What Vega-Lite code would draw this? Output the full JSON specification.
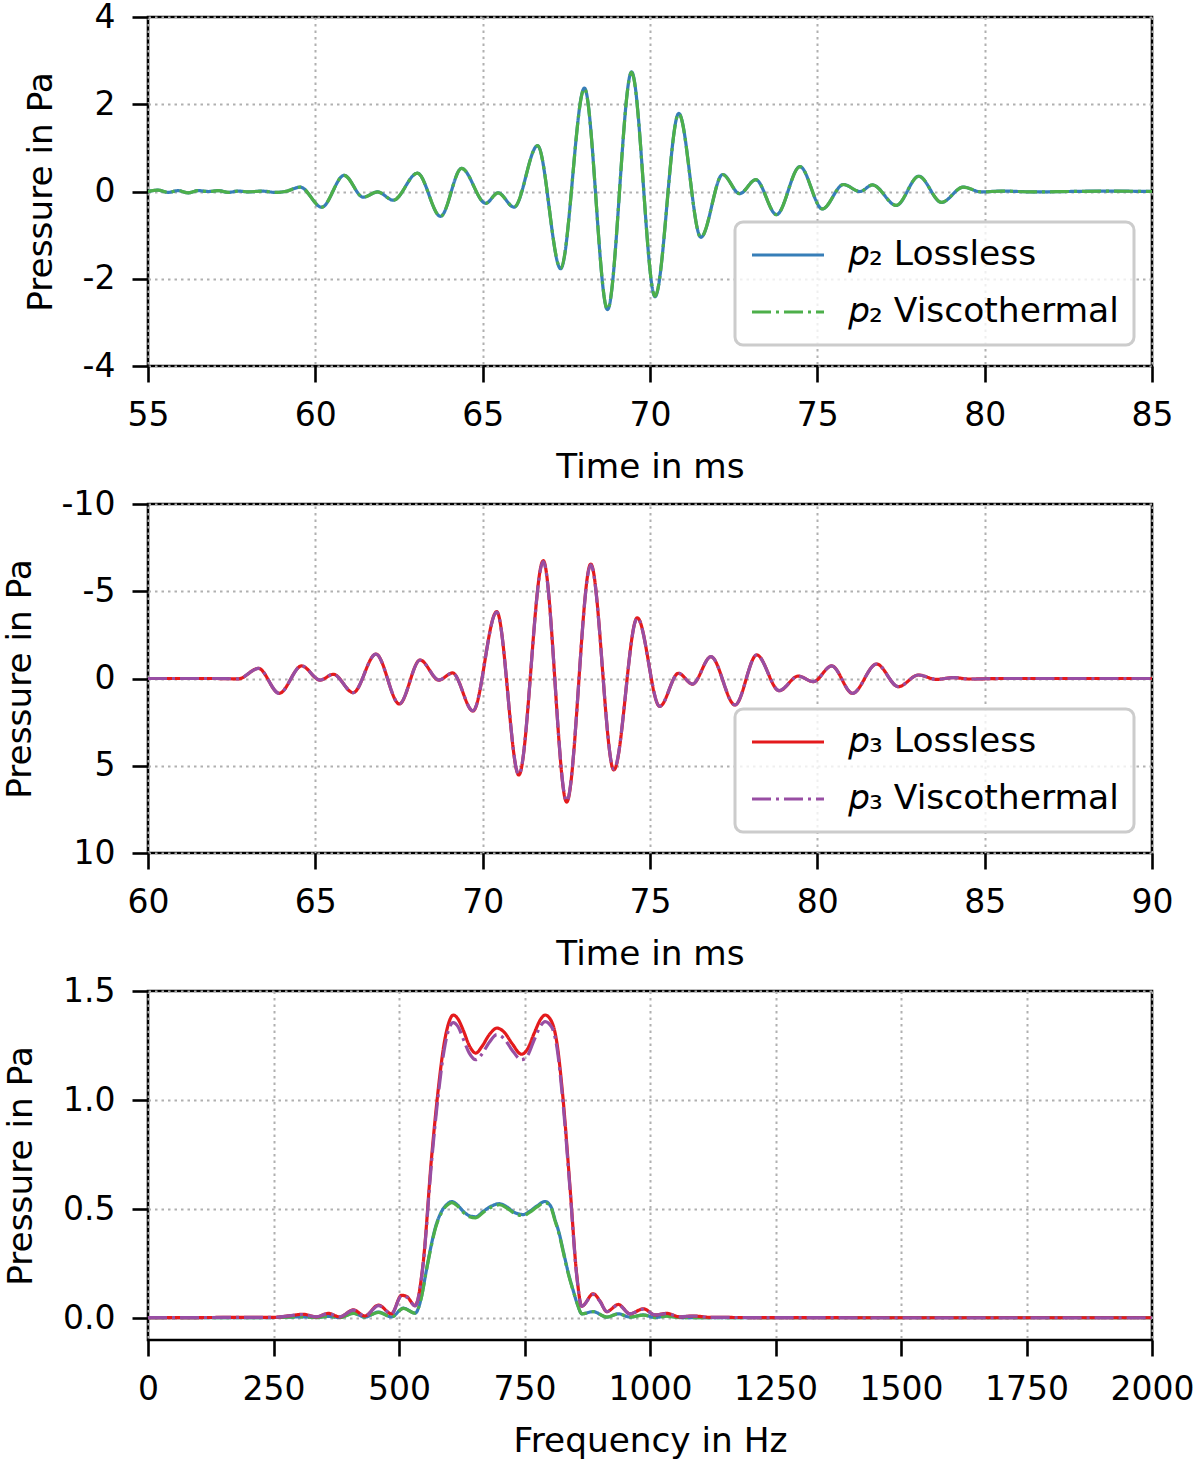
{
  "$schema": "https://vega.github.io/schema/vega-lite/v6.json",
  "background": "white",
  "padding": {"left": 1, "top": -1, "right": 0, "bottom": 0},
  "spacing": 0,
  "config": {
    "font": "DejaVu Sans",
    "view": {"stroke": "black", "strokeWidth": 2.6},
    "axis": {
      "labelFont": "DejaVu Sans", "titleFont": "DejaVu Sans",
      "labelFontSize": 33, "titleFontSize": 34.3, "titleFontWeight": "normal",
      "labelColor": "black", "titleColor": "black",
      "domain": false, "tickColor": "black", "tickSize": 16, "tickWidth": 2.6,
      "labelPadding": 17, "labelFlush": false, "labelOverlap": false,
      "grid": true, "gridColor": "#b0b0b0", "gridDash": [2.5, 4], "gridWidth": 2
    },
    "axisX": {"titlePadding": 18},
    "axisY": {"titlePadding": 24},
    "legend": {
      "labelFont": "DejaVu Sans", "labelFontSize": 34.5, "labelColor": "black", "labelLimit": 0,
      "symbolType": "stroke", "symbolSize": 5184, "symbolStrokeWidth": 3.2, "clipHeight": 36,
      "fillColor": "rgba(255,255,255,0.8)", "strokeColor": "#cccccc", "strokeWidth": 3, "cornerRadius": 8,
      "padding": 15, "rowPadding": 21, "labelOffset": 23
    }
  },
  "resolve": {
    "scale": {"color": "independent", "strokeDash": "independent"},
    "legend": {"color": "independent", "strokeDash": "independent"}
  },
  "datasets": {
    "p2t": [
      {"t": 55, "p": 0, "s": "L"}, {"t": 55.3, "p": 0.03, "s": "L"}, {"t": 55.6, "p": -0.02, "s": "L"}, {"t": 55.9, "p": 0.02, "s": "L"},
      {"t": 56.2, "p": -0.03, "s": "L"}, {"t": 56.5, "p": 0.02, "s": "L"}, {"t": 56.8, "p": 0, "s": "L"}, {"t": 57.1, "p": 0.02, "s": "L"},
      {"t": 57.4, "p": -0.02, "s": "L"}, {"t": 57.7, "p": 0.01, "s": "L"}, {"t": 58, "p": -0.01, "s": "L"}, {"t": 58.4, "p": 0.01, "s": "L"},
      {"t": 58.8, "p": -0.02, "s": "L"}, {"t": 59.1, "p": 0, "s": "L"}, {"t": 59.55, "p": 0.1, "s": "L"}, {"t": 60.19, "p": -0.36, "s": "L"},
      {"t": 60.86, "p": 0.37, "s": "L"}, {"t": 61.43, "p": -0.13, "s": "L"}, {"t": 61.86, "p": -0.01, "s": "L"}, {"t": 62.33, "p": -0.2, "s": "L"},
      {"t": 63.05, "p": 0.42, "s": "L"}, {"t": 63.74, "p": -0.57, "s": "L"}, {"t": 64.37, "p": 0.53, "s": "L"}, {"t": 65.09, "p": -0.27, "s": "L"},
      {"t": 65.46, "p": -0.03, "s": "L"}, {"t": 65.94, "p": -0.36, "s": "L"}, {"t": 66.64, "p": 1.05, "s": "L"}, {"t": 67.33, "p": -1.77, "s": "L"},
      {"t": 68.04, "p": 2.37, "s": "L"}, {"t": 68.73, "p": -2.71, "s": "L"}, {"t": 69.45, "p": 2.74, "s": "L"}, {"t": 70.15, "p": -2.41, "s": "L"},
      {"t": 70.86, "p": 1.79, "s": "L"}, {"t": 71.52, "p": -1.05, "s": "L"}, {"t": 72.17, "p": 0.39, "s": "L"}, {"t": 72.68, "p": -0.05, "s": "L"},
      {"t": 73.16, "p": 0.27, "s": "L"}, {"t": 73.78, "p": -0.53, "s": "L"}, {"t": 74.48, "p": 0.57, "s": "L"}, {"t": 75.15, "p": -0.4, "s": "L"},
      {"t": 75.78, "p": 0.16, "s": "L"}, {"t": 76.27, "p": 0, "s": "L"}, {"t": 76.65, "p": 0.15, "s": "L"}, {"t": 77.36, "p": -0.32, "s": "L"},
      {"t": 78.03, "p": 0.35, "s": "L"}, {"t": 78.71, "p": -0.25, "s": "L"}, {"t": 79.36, "p": 0.1, "s": "L"}, {"t": 79.9, "p": -0.01, "s": "L"},
      {"t": 80.5, "p": 0.01, "s": "L"}, {"t": 81.5, "p": -0.01, "s": "L"}, {"t": 82.5, "p": 0, "s": "L"}, {"t": 83.5, "p": 0.01, "s": "L"}, {"t": 85, "p": 0, "s": "L"},

      {"t": 55, "p": 0, "s": "V"}, {"t": 55.3, "p": 0.03, "s": "V"}, {"t": 55.6, "p": -0.02, "s": "V"}, {"t": 55.9, "p": 0.02, "s": "V"},
      {"t": 56.2, "p": -0.03, "s": "V"}, {"t": 56.5, "p": 0.02, "s": "V"}, {"t": 56.8, "p": 0, "s": "V"}, {"t": 57.1, "p": 0.02, "s": "V"},
      {"t": 57.4, "p": -0.02, "s": "V"}, {"t": 57.7, "p": 0.01, "s": "V"}, {"t": 58, "p": -0.01, "s": "V"}, {"t": 58.4, "p": 0.01, "s": "V"},
      {"t": 58.8, "p": -0.02, "s": "V"}, {"t": 59.1, "p": 0, "s": "V"}, {"t": 59.55, "p": 0.1, "s": "V"}, {"t": 60.19, "p": -0.36, "s": "V"},
      {"t": 60.86, "p": 0.37, "s": "V"}, {"t": 61.43, "p": -0.13, "s": "V"}, {"t": 61.86, "p": -0.01, "s": "V"}, {"t": 62.33, "p": -0.2, "s": "V"},
      {"t": 63.05, "p": 0.42, "s": "V"}, {"t": 63.74, "p": -0.57, "s": "V"}, {"t": 64.37, "p": 0.53, "s": "V"}, {"t": 65.09, "p": -0.27, "s": "V"},
      {"t": 65.46, "p": -0.03, "s": "V"}, {"t": 65.94, "p": -0.36, "s": "V"}, {"t": 66.64, "p": 1.05, "s": "V"}, {"t": 67.33, "p": -1.76, "s": "V"},
      {"t": 68.04, "p": 2.36, "s": "V"}, {"t": 68.73, "p": -2.7, "s": "V"}, {"t": 69.45, "p": 2.73, "s": "V"}, {"t": 70.15, "p": -2.4, "s": "V"},
      {"t": 70.86, "p": 1.78, "s": "V"}, {"t": 71.52, "p": -1.05, "s": "V"}, {"t": 72.17, "p": 0.39, "s": "V"}, {"t": 72.68, "p": -0.05, "s": "V"},
      {"t": 73.16, "p": 0.27, "s": "V"}, {"t": 73.78, "p": -0.53, "s": "V"}, {"t": 74.48, "p": 0.57, "s": "V"}, {"t": 75.15, "p": -0.4, "s": "V"},
      {"t": 75.78, "p": 0.16, "s": "V"}, {"t": 76.27, "p": 0, "s": "V"}, {"t": 76.65, "p": 0.15, "s": "V"}, {"t": 77.36, "p": -0.32, "s": "V"},
      {"t": 78.03, "p": 0.35, "s": "V"}, {"t": 78.71, "p": -0.25, "s": "V"}, {"t": 79.36, "p": 0.1, "s": "V"}, {"t": 79.9, "p": -0.01, "s": "V"},
      {"t": 80.5, "p": 0.01, "s": "V"}, {"t": 81.5, "p": -0.01, "s": "V"}, {"t": 82.5, "p": 0, "s": "V"}, {"t": 83.5, "p": 0.01, "s": "V"}, {"t": 85, "p": 0, "s": "V"}
    ],
    "p3t": [
      {"t": 60, "p": 0, "s": "L"}, {"t": 61, "p": 0, "s": "L"}, {"t": 62, "p": 0, "s": "L"}, {"t": 62.7, "p": 0.02, "s": "L"},
      {"t": 63.3, "p": -0.58, "s": "L"}, {"t": 63.92, "p": 0.85, "s": "L"}, {"t": 64.59, "p": -0.72, "s": "L"}, {"t": 65.14, "p": 0.09, "s": "L"},
      {"t": 65.54, "p": -0.24, "s": "L"}, {"t": 66.13, "p": 0.81, "s": "L"}, {"t": 66.81, "p": -1.4, "s": "L"}, {"t": 67.51, "p": 1.46, "s": "L"},
      {"t": 68.13, "p": -1.06, "s": "L"}, {"t": 68.69, "p": 0.09, "s": "L"}, {"t": 69.1, "p": -0.32, "s": "L"}, {"t": 69.71, "p": 1.86, "s": "L"},
      {"t": 70.42, "p": -3.83, "s": "L"}, {"t": 71.08, "p": 5.53, "s": "L"}, {"t": 71.81, "p": -6.75, "s": "L"}, {"t": 72.51, "p": 7.08, "s": "L"},
      {"t": 73.23, "p": -6.56, "s": "L"}, {"t": 73.92, "p": 5.24, "s": "L"}, {"t": 74.62, "p": -3.48, "s": "L"}, {"t": 75.29, "p": 1.6, "s": "L"},
      {"t": 75.85, "p": -0.3, "s": "L"}, {"t": 76.27, "p": 0.32, "s": "L"}, {"t": 76.82, "p": -1.25, "s": "L"}, {"t": 77.54, "p": 1.52, "s": "L"},
      {"t": 78.19, "p": -1.35, "s": "L"}, {"t": 78.86, "p": 0.7, "s": "L"}, {"t": 79.43, "p": -0.14, "s": "L"}, {"t": 79.88, "p": 0.18, "s": "L"},
      {"t": 80.43, "p": -0.72, "s": "L"}, {"t": 81.05, "p": 0.85, "s": "L"}, {"t": 81.77, "p": -0.83, "s": "L"}, {"t": 82.42, "p": 0.47, "s": "L"},
      {"t": 83.02, "p": -0.2, "s": "L"}, {"t": 83.56, "p": 0.05, "s": "L"}, {"t": 84.06, "p": -0.05, "s": "L"}, {"t": 84.56, "p": 0.03, "s": "L"},
      {"t": 85.5, "p": 0, "s": "L"}, {"t": 87, "p": 0, "s": "L"}, {"t": 90, "p": 0, "s": "L"},

      {"t": 60, "p": 0, "s": "V"}, {"t": 61, "p": 0, "s": "V"}, {"t": 62, "p": 0, "s": "V"}, {"t": 62.7, "p": 0.02, "s": "V"},
      {"t": 63.3, "p": -0.58, "s": "V"}, {"t": 63.92, "p": 0.85, "s": "V"}, {"t": 64.59, "p": -0.72, "s": "V"}, {"t": 65.14, "p": 0.09, "s": "V"},
      {"t": 65.54, "p": -0.24, "s": "V"}, {"t": 66.13, "p": 0.81, "s": "V"}, {"t": 66.81, "p": -1.4, "s": "V"}, {"t": 67.51, "p": 1.46, "s": "V"},
      {"t": 68.13, "p": -1.06, "s": "V"}, {"t": 68.69, "p": 0.09, "s": "V"}, {"t": 69.1, "p": -0.32, "s": "V"}, {"t": 69.71, "p": 1.85, "s": "V"},
      {"t": 70.42, "p": -3.8, "s": "V"}, {"t": 71.08, "p": 5.5, "s": "V"}, {"t": 71.81, "p": -6.7, "s": "V"}, {"t": 72.51, "p": 7.03, "s": "V"},
      {"t": 73.23, "p": -6.52, "s": "V"}, {"t": 73.92, "p": 5.2, "s": "V"}, {"t": 74.62, "p": -3.46, "s": "V"}, {"t": 75.29, "p": 1.6, "s": "V"},
      {"t": 75.85, "p": -0.3, "s": "V"}, {"t": 76.27, "p": 0.32, "s": "V"}, {"t": 76.82, "p": -1.25, "s": "V"}, {"t": 77.54, "p": 1.52, "s": "V"},
      {"t": 78.19, "p": -1.35, "s": "V"}, {"t": 78.86, "p": 0.7, "s": "V"}, {"t": 79.43, "p": -0.14, "s": "V"}, {"t": 79.88, "p": 0.18, "s": "V"},
      {"t": 80.43, "p": -0.72, "s": "V"}, {"t": 81.05, "p": 0.85, "s": "V"}, {"t": 81.77, "p": -0.83, "s": "V"}, {"t": 82.42, "p": 0.47, "s": "V"},
      {"t": 83.02, "p": -0.2, "s": "V"}, {"t": 83.56, "p": 0.05, "s": "V"}, {"t": 84.06, "p": -0.05, "s": "V"}, {"t": 84.56, "p": 0.03, "s": "V"},
      {"t": 85.5, "p": 0, "s": "V"}, {"t": 87, "p": 0, "s": "V"}, {"t": 90, "p": 0, "s": "V"}
    ],
    "spec": [
      {"f": 0, "p": 0.002, "s": "p2L"}, {"f": 250, "p": 0.003, "s": "p2L"}, {"f": 309, "p": 0.006, "s": "p2L"}, {"f": 335, "p": 0.003, "s": "p2L"},
      {"f": 359, "p": 0.008, "s": "p2L"}, {"f": 382, "p": 0.003, "s": "p2L"}, {"f": 409, "p": 0.023, "s": "p2L"}, {"f": 432, "p": 0.005, "s": "p2L"},
      {"f": 459, "p": 0.028, "s": "p2L"}, {"f": 485, "p": 0.006, "s": "p2L"}, {"f": 509, "p": 0.046, "s": "p2L"}, {"f": 532, "p": 0.023, "s": "p2L"},
      {"f": 545, "p": 0.1, "s": "p2L"}, {"f": 553, "p": 0.2, "s": "p2L"}, {"f": 562, "p": 0.31, "s": "p2L"}, {"f": 573, "p": 0.42, "s": "p2L"},
      {"f": 585, "p": 0.49, "s": "p2L"}, {"f": 597, "p": 0.525, "s": "p2L"}, {"f": 605, "p": 0.535, "s": "p2L"}, {"f": 616, "p": 0.52, "s": "p2L"},
      {"f": 628, "p": 0.49, "s": "p2L"}, {"f": 640, "p": 0.47, "s": "p2L"}, {"f": 653, "p": 0.465, "s": "p2L"}, {"f": 668, "p": 0.49, "s": "p2L"},
      {"f": 685, "p": 0.515, "s": "p2L"}, {"f": 700, "p": 0.525, "s": "p2L"}, {"f": 715, "p": 0.51, "s": "p2L"}, {"f": 730, "p": 0.485, "s": "p2L"},
      {"f": 748, "p": 0.475, "s": "p2L"}, {"f": 760, "p": 0.49, "s": "p2L"}, {"f": 775, "p": 0.515, "s": "p2L"}, {"f": 791, "p": 0.535, "s": "p2L"},
      {"f": 803, "p": 0.51, "s": "p2L"}, {"f": 811, "p": 0.45, "s": "p2L"}, {"f": 819, "p": 0.39, "s": "p2L"}, {"f": 827, "p": 0.31, "s": "p2L"},
      {"f": 837, "p": 0.21, "s": "p2L"}, {"f": 847, "p": 0.127, "s": "p2L"}, {"f": 856, "p": 0.06, "s": "p2L"}, {"f": 864, "p": 0.02, "s": "p2L"},
      {"f": 887, "p": 0.03, "s": "p2L"}, {"f": 914, "p": 0.005, "s": "p2L"}, {"f": 937, "p": 0.02, "s": "p2L"}, {"f": 960, "p": 0.005, "s": "p2L"},
      {"f": 987, "p": 0.015, "s": "p2L"}, {"f": 1010, "p": 0.003, "s": "p2L"}, {"f": 1033, "p": 0.01, "s": "p2L"}, {"f": 1060, "p": 0.003, "s": "p2L"},
      {"f": 1100, "p": 0.002, "s": "p2L"}, {"f": 2000, "p": 0.002, "s": "p2L"},

      {"f": 0, "p": 0.002, "s": "p2V"}, {"f": 250, "p": 0.003, "s": "p2V"}, {"f": 309, "p": 0.006, "s": "p2V"}, {"f": 335, "p": 0.003, "s": "p2V"},
      {"f": 359, "p": 0.008, "s": "p2V"}, {"f": 382, "p": 0.003, "s": "p2V"}, {"f": 409, "p": 0.022, "s": "p2V"}, {"f": 432, "p": 0.005, "s": "p2V"},
      {"f": 459, "p": 0.027, "s": "p2V"}, {"f": 485, "p": 0.006, "s": "p2V"}, {"f": 509, "p": 0.045, "s": "p2V"}, {"f": 532, "p": 0.023, "s": "p2V"},
      {"f": 545, "p": 0.1, "s": "p2V"}, {"f": 553, "p": 0.2, "s": "p2V"}, {"f": 562, "p": 0.305, "s": "p2V"}, {"f": 573, "p": 0.415, "s": "p2V"},
      {"f": 585, "p": 0.485, "s": "p2V"}, {"f": 597, "p": 0.52, "s": "p2V"}, {"f": 605, "p": 0.53, "s": "p2V"}, {"f": 616, "p": 0.515, "s": "p2V"},
      {"f": 628, "p": 0.485, "s": "p2V"}, {"f": 640, "p": 0.465, "s": "p2V"}, {"f": 653, "p": 0.46, "s": "p2V"}, {"f": 668, "p": 0.485, "s": "p2V"},
      {"f": 685, "p": 0.51, "s": "p2V"}, {"f": 700, "p": 0.52, "s": "p2V"}, {"f": 715, "p": 0.505, "s": "p2V"}, {"f": 730, "p": 0.48, "s": "p2V"},
      {"f": 748, "p": 0.47, "s": "p2V"}, {"f": 760, "p": 0.485, "s": "p2V"}, {"f": 775, "p": 0.51, "s": "p2V"}, {"f": 791, "p": 0.53, "s": "p2V"},
      {"f": 803, "p": 0.505, "s": "p2V"}, {"f": 811, "p": 0.445, "s": "p2V"}, {"f": 819, "p": 0.385, "s": "p2V"}, {"f": 827, "p": 0.305, "s": "p2V"},
      {"f": 837, "p": 0.205, "s": "p2V"}, {"f": 847, "p": 0.125, "s": "p2V"}, {"f": 856, "p": 0.06, "s": "p2V"}, {"f": 864, "p": 0.02, "s": "p2V"},
      {"f": 887, "p": 0.03, "s": "p2V"}, {"f": 914, "p": 0.005, "s": "p2V"}, {"f": 937, "p": 0.02, "s": "p2V"}, {"f": 960, "p": 0.005, "s": "p2V"},
      {"f": 987, "p": 0.014, "s": "p2V"}, {"f": 1010, "p": 0.003, "s": "p2V"}, {"f": 1033, "p": 0.009, "s": "p2V"}, {"f": 1060, "p": 0.003, "s": "p2V"},
      {"f": 1100, "p": 0.002, "s": "p2V"}, {"f": 2000, "p": 0.002, "s": "p2V"},

      {"f": 0, "p": 0.003, "s": "p3L"}, {"f": 100, "p": 0.003, "s": "p3L"}, {"f": 200, "p": 0.004, "s": "p3L"}, {"f": 250, "p": 0.004, "s": "p3L"},
      {"f": 285, "p": 0.012, "s": "p3L"}, {"f": 309, "p": 0.018, "s": "p3L"}, {"f": 335, "p": 0.006, "s": "p3L"}, {"f": 359, "p": 0.022, "s": "p3L"},
      {"f": 382, "p": 0.006, "s": "p3L"}, {"f": 409, "p": 0.038, "s": "p3L"}, {"f": 432, "p": 0.01, "s": "p3L"}, {"f": 459, "p": 0.06, "s": "p3L"},
      {"f": 485, "p": 0.02, "s": "p3L"}, {"f": 505, "p": 0.105, "s": "p3L"}, {"f": 515, "p": 0.1, "s": "p3L"}, {"f": 532, "p": 0.058, "s": "p3L"},
      {"f": 548, "p": 0.25, "s": "p3L"}, {"f": 565, "p": 0.74, "s": "p3L"}, {"f": 578, "p": 1.045, "s": "p3L"}, {"f": 590, "p": 1.26, "s": "p3L"},
      {"f": 600, "p": 1.36, "s": "p3L"}, {"f": 608, "p": 1.39, "s": "p3L"}, {"f": 618, "p": 1.37, "s": "p3L"}, {"f": 628, "p": 1.32, "s": "p3L"},
      {"f": 640, "p": 1.25, "s": "p3L"}, {"f": 653, "p": 1.215, "s": "p3L"}, {"f": 665, "p": 1.245, "s": "p3L"}, {"f": 680, "p": 1.3, "s": "p3L"},
      {"f": 695, "p": 1.33, "s": "p3L"}, {"f": 710, "p": 1.31, "s": "p3L"}, {"f": 725, "p": 1.26, "s": "p3L"}, {"f": 744, "p": 1.21, "s": "p3L"},
      {"f": 755, "p": 1.23, "s": "p3L"}, {"f": 770, "p": 1.31, "s": "p3L"}, {"f": 782, "p": 1.37, "s": "p3L"}, {"f": 791, "p": 1.39, "s": "p3L"},
      {"f": 804, "p": 1.36, "s": "p3L"}, {"f": 814, "p": 1.27, "s": "p3L"}, {"f": 827, "p": 1.0, "s": "p3L"}, {"f": 841, "p": 0.59, "s": "p3L"},
      {"f": 854, "p": 0.2, "s": "p3L"}, {"f": 864, "p": 0.055, "s": "p3L"}, {"f": 887, "p": 0.112, "s": "p3L"}, {"f": 900, "p": 0.08, "s": "p3L"},
      {"f": 914, "p": 0.03, "s": "p3L"}, {"f": 937, "p": 0.063, "s": "p3L"}, {"f": 960, "p": 0.02, "s": "p3L"}, {"f": 987, "p": 0.043, "s": "p3L"},
      {"f": 1010, "p": 0.015, "s": "p3L"}, {"f": 1033, "p": 0.022, "s": "p3L"}, {"f": 1060, "p": 0.006, "s": "p3L"}, {"f": 1086, "p": 0.01, "s": "p3L"},
      {"f": 1120, "p": 0.004, "s": "p3L"}, {"f": 1200, "p": 0.003, "s": "p3L"}, {"f": 1500, "p": 0.002, "s": "p3L"}, {"f": 2000, "p": 0.002, "s": "p3L"},

      {"f": 0, "p": 0.003, "s": "p3V"}, {"f": 100, "p": 0.003, "s": "p3V"}, {"f": 200, "p": 0.004, "s": "p3V"}, {"f": 250, "p": 0.004, "s": "p3V"},
      {"f": 285, "p": 0.012, "s": "p3V"}, {"f": 309, "p": 0.017, "s": "p3V"}, {"f": 335, "p": 0.006, "s": "p3V"}, {"f": 359, "p": 0.021, "s": "p3V"},
      {"f": 382, "p": 0.006, "s": "p3V"}, {"f": 409, "p": 0.037, "s": "p3V"}, {"f": 432, "p": 0.01, "s": "p3V"}, {"f": 459, "p": 0.058, "s": "p3V"},
      {"f": 485, "p": 0.02, "s": "p3V"}, {"f": 505, "p": 0.102, "s": "p3V"}, {"f": 515, "p": 0.097, "s": "p3V"}, {"f": 532, "p": 0.056, "s": "p3V"},
      {"f": 548, "p": 0.245, "s": "p3V"}, {"f": 565, "p": 0.72, "s": "p3V"}, {"f": 578, "p": 1.02, "s": "p3V"}, {"f": 590, "p": 1.23, "s": "p3V"},
      {"f": 600, "p": 1.33, "s": "p3V"}, {"f": 608, "p": 1.355, "s": "p3V"}, {"f": 618, "p": 1.335, "s": "p3V"}, {"f": 628, "p": 1.28, "s": "p3V"},
      {"f": 640, "p": 1.215, "s": "p3V"}, {"f": 653, "p": 1.185, "s": "p3V"}, {"f": 665, "p": 1.21, "s": "p3V"}, {"f": 680, "p": 1.265, "s": "p3V"},
      {"f": 695, "p": 1.3, "s": "p3V"}, {"f": 710, "p": 1.28, "s": "p3V"}, {"f": 725, "p": 1.23, "s": "p3V"}, {"f": 744, "p": 1.185, "s": "p3V"},
      {"f": 755, "p": 1.2, "s": "p3V"}, {"f": 770, "p": 1.28, "s": "p3V"}, {"f": 782, "p": 1.34, "s": "p3V"}, {"f": 791, "p": 1.36, "s": "p3V"},
      {"f": 804, "p": 1.335, "s": "p3V"}, {"f": 814, "p": 1.25, "s": "p3V"}, {"f": 827, "p": 0.98, "s": "p3V"}, {"f": 841, "p": 0.58, "s": "p3V"},
      {"f": 854, "p": 0.195, "s": "p3V"}, {"f": 864, "p": 0.054, "s": "p3V"}, {"f": 887, "p": 0.109, "s": "p3V"}, {"f": 900, "p": 0.078, "s": "p3V"},
      {"f": 914, "p": 0.03, "s": "p3V"}, {"f": 937, "p": 0.061, "s": "p3V"}, {"f": 960, "p": 0.02, "s": "p3V"}, {"f": 987, "p": 0.042, "s": "p3V"},
      {"f": 1010, "p": 0.015, "s": "p3V"}, {"f": 1033, "p": 0.021, "s": "p3V"}, {"f": 1060, "p": 0.006, "s": "p3V"}, {"f": 1086, "p": 0.01, "s": "p3V"},
      {"f": 1120, "p": 0.004, "s": "p3V"}, {"f": 1200, "p": 0.003, "s": "p3V"}, {"f": 1500, "p": 0.002, "s": "p3V"}, {"f": 2000, "p": 0.002, "s": "p3V"}
    ]
  },
  "vconcat": [
    {
      "width": 1004,
      "height": 349,
      "data": {"name": "p2t"},
      "mark": {"type": "line", "strokeWidth": 3.2, "interpolate": "monotone", "clip": true},
      "encoding": {
        "x": {"field": "t", "type": "quantitative", "scale": {"domain": [55, 85], "nice": false, "zero": false},
              "axis": {"title": "Time in ms", "values": [55, 60, 65, 70, 75, 80, 85]}},
        "y": {"field": "p", "type": "quantitative", "scale": {"domain": [-4, 4], "nice": false},
              "axis": {"title": "Pressure in Pa", "values": [-4, -2, 0, 2, 4], "labelExpr": "replace(datum.label, '−', '-')"}},
        "color": {"field": "s", "type": "nominal", "scale": {"domain": ["L", "V"], "range": ["#377eb8", "#4daf4a"]},
                  "legend": {"title": null, "orient": "none", "legendX": 587, "legendY": 205,
                             "labelExpr": "datum.label == 'L' ? '𝑝₂ Lossless' : '𝑝₂ Viscothermal'"}},
        "strokeDash": {"field": "s", "type": "nominal", "scale": {"domain": ["L", "V"], "range": [[1, 0], [19, 5, 3, 5]]},
                  "legend": {"title": null, "orient": "none", "legendX": 587, "legendY": 205,
                             "labelExpr": "datum.label == 'L' ? '𝑝₂ Lossless' : '𝑝₂ Viscothermal'"}}
      }
    },
    {
      "width": 1004,
      "height": 349,
      "data": {"name": "p3t"},
      "mark": {"type": "line", "strokeWidth": 3.2, "interpolate": "monotone", "clip": true},
      "encoding": {
        "x": {"field": "t", "type": "quantitative", "scale": {"domain": [60, 90], "nice": false, "zero": false},
              "axis": {"title": "Time in ms", "values": [60, 65, 70, 75, 80, 85, 90]}},
        "y": {"field": "p", "type": "quantitative", "scale": {"domain": [-10, 10], "nice": false, "reverse": true},
              "axis": {"title": "Pressure in Pa", "values": [-10, -5, 0, 5, 10], "labelExpr": "replace(datum.label, '−', '-')"}},
        "color": {"field": "s", "type": "nominal", "scale": {"domain": ["L", "V"], "range": ["#e41a1c", "#984ea3"]},
                  "legend": {"title": null, "orient": "none", "legendX": 587, "legendY": 205,
                             "labelExpr": "datum.label == 'L' ? '𝑝₃ Lossless' : '𝑝₃ Viscothermal'"}},
        "strokeDash": {"field": "s", "type": "nominal", "scale": {"domain": ["L", "V"], "range": [[1, 0], [19, 5, 3, 5]]},
                  "legend": {"title": null, "orient": "none", "legendX": 587, "legendY": 205,
                             "labelExpr": "datum.label == 'L' ? '𝑝₃ Lossless' : '𝑝₃ Viscothermal'"}}
      }
    },
    {
      "width": 1004,
      "height": 349,
      "data": {"name": "spec"},
      "mark": {"type": "line", "strokeWidth": 3.2, "interpolate": "monotone", "clip": true},
      "encoding": {
        "x": {"field": "f", "type": "quantitative", "scale": {"domain": [0, 2000], "nice": false},
              "axis": {"title": "Frequency in Hz", "format": "d", "values": [0, 250, 500, 750, 1000, 1250, 1500, 1750, 2000]}},
        "y": {"field": "p", "type": "quantitative", "scale": {"domain": [-0.1, 1.5], "nice": false, "zero": false},
              "axis": {"title": "Pressure in Pa", "values": [0, 0.5, 1, 1.5], "format": ".1f"}},
        "color": {"field": "s", "type": "nominal",
                  "scale": {"domain": ["p2L", "p2V", "p3L", "p3V"], "range": ["#377eb8", "#4daf4a", "#e41a1c", "#984ea3"]},
                  "legend": null},
        "strokeDash": {"field": "s", "type": "nominal",
                  "scale": {"domain": ["p2L", "p2V", "p3L", "p3V"], "range": [[1, 0], [19, 5, 3, 5], [1, 0], [19, 5, 3, 5]]},
                  "legend": null}
      }
    }
  ]
}
